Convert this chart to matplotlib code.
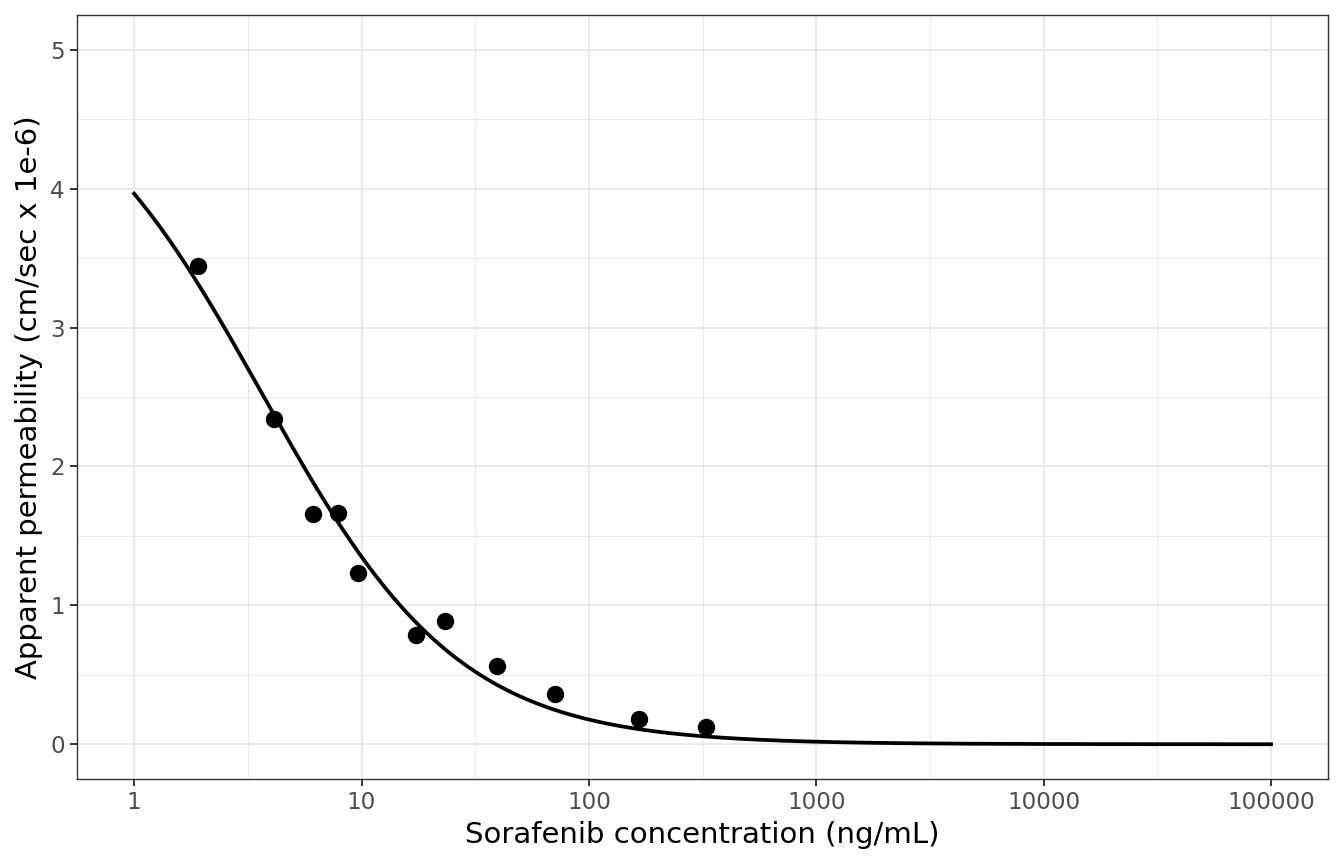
import numpy as np
import matplotlib.pyplot as plt
from matplotlib.ticker import FixedLocator, NullFormatter

conc = [1.905, 4.125, 6.14, 7.86, 9.65, 17.4, 23.3, 39.3, 71.2, 166, 327]
perm = [3.446, 2.340, 1.656, 1.667, 1.231, 0.785, 0.890, 0.566, 0.362, 0.180, 0.127]

# fitted curve parameters (top / (1 + (x/ic50)^hill))
top = 5.05
ic50 = 3.65
hill = 1.0
curve_x = np.logspace(0, 5, 400)
curve_y = top / (1 + (curve_x / ic50) ** hill)

x_ticks = [1, 10, 100, 1000, 10000, 100000]
x_labels = ["1", "10", "100", "1000", "10000", "100000"]
y_ticks = [0, 1, 2, 3, 4, 5]

fig = plt.figure(figsize=(13.44, 8.64), dpi=100)
ax = fig.add_axes([0.0575, 0.0984, 0.9305, 0.8842])

ax.set_xscale("log")
ax.set_xlim(10 ** -0.25, 10 ** 5.25)
ax.set_ylim(-0.25, 5.25)

ax.xaxis.set_major_locator(FixedLocator(x_ticks))
ax.set_xticklabels(x_labels)
ax.xaxis.set_minor_locator(FixedLocator([10 ** (k + 0.5) for k in range(-1, 5)]))
ax.xaxis.set_minor_formatter(NullFormatter())
ax.set_yticks(y_ticks)
ax.yaxis.set_minor_locator(FixedLocator([k + 0.5 for k in range(-1, 5)]))

ax.grid(True, which="major", color="#EBEBEB", linewidth=1.5)
ax.grid(True, which="minor", color="#EBEBEB", linewidth=0.75)
ax.set_axisbelow(True)

ax.plot(curve_x, curve_y, color="black", linewidth=2.7, zorder=3)
ax.plot(conc, perm, "o", color="black", markersize=11.5, zorder=4)

for s in ax.spines.values():
    s.set_color("#333333")
    s.set_linewidth(1.0)

ax.tick_params(which="major", length=5, width=1.4, color="#333333",
               labelsize=16.6, labelcolor="#4D4D4D", pad=4)
ax.tick_params(which="minor", length=0)

ax.set_xlabel("Sorafenib concentration (ng/mL)", fontsize=21, color="black", labelpad=5)
ax.set_ylabel("Apparent permeability (cm/sec x 1e-6)", fontsize=21, color="black", labelpad=5.5)

fig.savefig("out.png", dpi=100)
